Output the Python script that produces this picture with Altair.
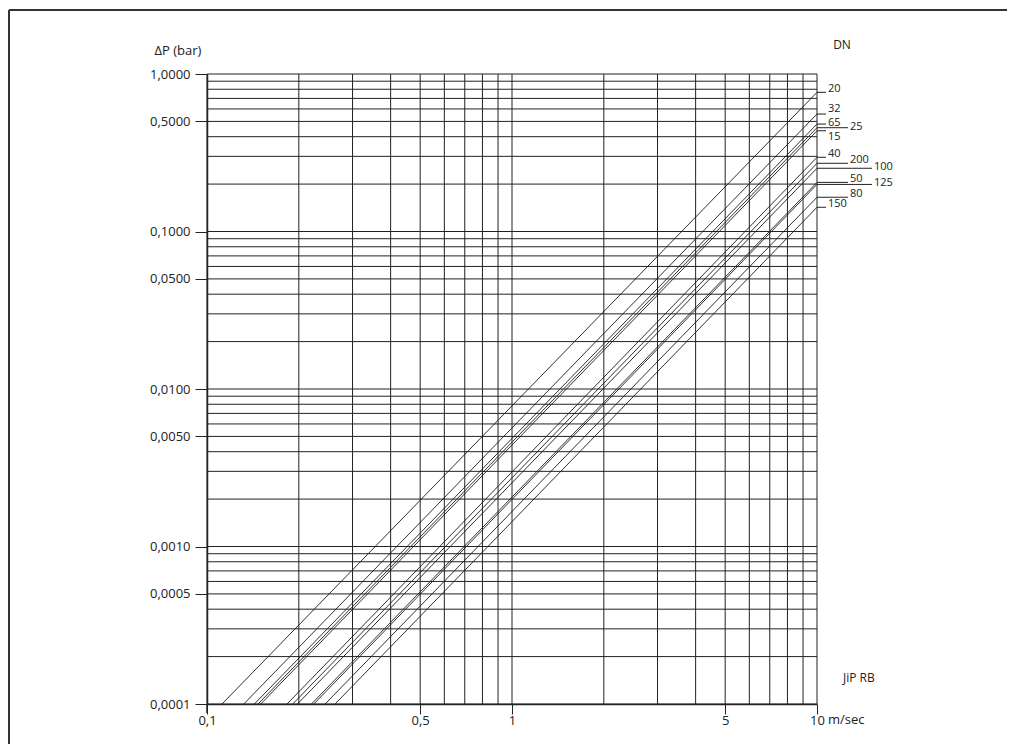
import altair as alt
import pandas as pd

# ---- data ----
dn_labels = ["20", "32", "65", "25", "15", "40", "200", "100", "50", "125", "80", "150"]
# velocity (m/sec) where each line leaves the bottom edge (dP = 0.0001 bar)
v_bottom = [0.112, 0.132, 0.143, 0.147, 0.150, 0.183, 0.191, 0.198, 0.220, 0.224, 0.244, 0.263]
# pressure drop (bar) where each line reaches the right edge (v = 10 m/sec)
dp_at_10 = [0.765, 0.557, 0.481, 0.456, 0.436, 0.296, 0.271, 0.252, 0.205, 0.199, 0.165, 0.1425]
# label layout: leader tier (0 short, 1 medium, 2 long) and text anchor
label_tier = [0, 0, 0, 1, 0, 0, 1, 2, 1, 2, 1, 0]
label_anchor = ["above", "up", "mid", "mid", "below", "above",
                "above", "mid", "above", "mid", "above", "above"]

x_grid = [0.1, 0.2, 0.3, 0.4, 0.5, 0.6, 0.7, 0.8, 0.9,
          1, 2, 3, 4, 5, 6, 7, 8, 9, 10]
y_grid = [0.0001, 0.0002, 0.0003, 0.0004, 0.0005, 0.0006, 0.0007, 0.0008, 0.0009,
          0.001, 0.002, 0.003, 0.004, 0.005, 0.006, 0.007, 0.008, 0.009,
          0.01, 0.02, 0.03, 0.04, 0.05, 0.06, 0.07, 0.08, 0.09,
          0.1, 0.2, 0.3, 0.4, 0.5, 0.6, 0.7, 0.8, 0.9, 1.0]

x_tick_values = [0.1, 0.5, 1, 5, 10]
x_tick_labels = ["0,1", "0,5", "1", "5", "10"]
y_tick_values = [0.0001, 0.0005, 0.001, 0.005, 0.01, 0.05, 0.1, 0.5, 1.0]
y_tick_labels = ["0,0001", "0,0005", "0,0010", "0,0050", "0,0100",
                 "0,0500", "0,1000", "0,5000", "1,0000"]

V_MAX = 10
DP_MIN = 0.0001

# ---- layout ----
W, H = 610, 630
FONT = "Open Sans"
INK = "#222222"
LEADER_LEN = [9, 31, 55]
ANCHOR_DY = [("above", 0), ("up", -2), ("mid", 2), ("below", 9)]


def label_expr(values, labels):
    expr = "''"
    for v, l in zip(reversed(values), reversed(labels)):
        expr = f"datum.value == {v} ? '{l}' : ({expr})"
    return expr


xs = alt.Scale(type="log", domain=[0.1, 10], nice=False)
ys = alt.Scale(type="log", domain=[0.0001, 1], nice=False)

x_axis = alt.Axis(
    values=x_tick_values, labelExpr=label_expr(x_tick_values, x_tick_labels),
    grid=False, title=None, tickSize=10, tickColor=INK, domainColor=INK,
    domainWidth=1.5, tickWidth=1, labelPadding=0, labelFont=FONT,
    labelFontSize=13, labelColor=INK, labelFlush=False, labelOverlap=False)
y_axis = alt.Axis(
    values=y_tick_values, labelExpr=label_expr(y_tick_values, y_tick_labels),
    grid=False, title=None, tickSize=12, tickColor=INK, domainColor=INK,
    domainWidth=1.5, tickWidth=1, labelPadding=5, labelFont=FONT,
    labelFontSize=13, labelColor=INK, labelFlush=False, labelOverlap=False)

rows = []
for dn, v0, dp1 in zip(dn_labels, v_bottom, dp_at_10):
    rows.append({"dn": dn, "v": v0, "dp": DP_MIN})
    rows.append({"dn": dn, "v": V_MAX, "dp": dp1})
lines_df = pd.DataFrame(rows)

labels_df = pd.DataFrame({"dn": dn_labels, "dp": dp_at_10,
                          "tier": label_tier, "anchor": label_anchor})

xgrid = alt.Chart(pd.DataFrame({"v": x_grid})).mark_rule(
    color=INK, strokeWidth=1).encode(x=alt.X("v:Q", scale=xs, axis=x_axis))
ygrid = alt.Chart(pd.DataFrame({"dp": y_grid})).mark_rule(
    color=INK, strokeWidth=1).encode(y=alt.Y("dp:Q", scale=ys, axis=y_axis))

lines = alt.Chart(lines_df).mark_line(color="#1a1a1a", strokeWidth=0.9).encode(
    x=alt.X("v:Q", scale=xs, axis=x_axis),
    y=alt.Y("dp:Q", scale=ys, axis=y_axis),
    detail="dn:N",
)

layers = [xgrid, ygrid, lines]

base_lab = alt.Chart(labels_df)
for t, L in enumerate(LEADER_LEN):
    layers.append(base_lab.transform_filter(alt.datum.tier == t).mark_rule(
        color=INK, strokeWidth=1).encode(
        x=alt.value(W), x2=alt.value(W + L),
        y=alt.Y("dp:Q", scale=ys, axis=y_axis)))
    for anc, dy in ANCHOR_DY:
        layers.append(base_lab.transform_filter(
            (alt.datum.tier == t) & (alt.datum.anchor == anc)).mark_text(
            align="left", baseline="alphabetic", dy=dy, font=FONT, fontSize=11,
            color=INK).encode(
            x=alt.value(W + L + 2),
            y=alt.Y("dp:Q", scale=ys, axis=y_axis),
            text="dn:N"))

one = alt.Chart(pd.DataFrame({"a": [0]}))
layers += [
    one.mark_text(text="ΔP (bar)", font=FONT, fontSize=13, color=INK,
                  align="center", baseline="middle").encode(
        x=alt.value(-29), y=alt.value(-23)),
    one.mark_text(text="DN", font=FONT, fontSize=12, color=INK,
                  align="center", baseline="middle").encode(
        x=alt.value(635), y=alt.value(-29)),
    one.mark_text(text="JiP RB", font=FONT, fontSize=12, color=INK,
                  align="left", baseline="middle").encode(
        x=alt.value(636), y=alt.value(-26 + H)),
    one.mark_text(text="m/sec", font=FONT, fontSize=13, color=INK,
                  align="left", baseline="middle").encode(
        x=alt.value(621), y=alt.value(H + 16)),
    # y-axis line continues slightly below the x axis
    one.mark_rule(color=INK, strokeWidth=1.5).encode(
        x=alt.value(0), y=alt.value(H), y2=alt.value(H + 9)),
    # outer frame (top and left)
    one.mark_rule(color="#333333", strokeWidth=2).encode(
        x=alt.value(-198), y=alt.value(-64), y2=alt.value(H + 60)),
    one.mark_rule(color="#333333", strokeWidth=2).encode(
        x=alt.value(-198), x2=alt.value(W + 200), y=alt.value(-64)),
]

chart = alt.layer(*layers).properties(
    width=W, height=H,
    autosize=alt.AutoSizeParams(type="none"),
    padding={"left": 199, "top": 66, "right": 190, "bottom": 40},
    background="white",
).configure_view(stroke=None)

chart.save("out.html", embed_options={"renderer": "svg", "actions": False})
